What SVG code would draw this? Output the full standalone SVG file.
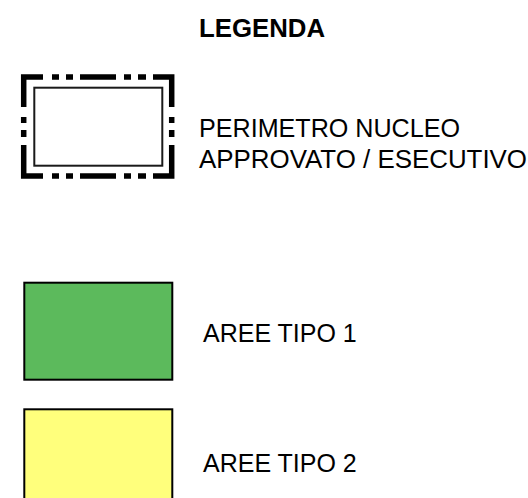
<svg xmlns="http://www.w3.org/2000/svg" width="528" height="498" viewBox="0 0 528 498">
<style>
text{font-family:"Liberation Sans",Arial,sans-serif;fill:#000;font-size:25px}
.title{font-weight:bold}
.frame{fill:none;stroke:#000;stroke-width:5.5;stroke-linecap:butt;stroke-linejoin:miter}
.inner{fill:#fff;stroke:#1a1a1a;stroke-width:2}
.swatch{stroke:#000;stroke-width:2}
</style>
<rect width="528" height="498" fill="#fff"/>
<text class="title" x="199" y="37" textLength="126" lengthAdjust="spacingAndGlyphs">LEGENDA</text>
<g id="perimetro">
<rect class="inner" x="34.3" y="87.7" width="128" height="78"/>
<path class="frame" d="M23.7 107V77H43M153 77H171.7V107M23.7 145V176H43M153 176H171.7V145M52 77H59M66 77H73M80 77H116M124 77H131M138 77H146M52 176H59M66 176H73M80 176H116M124 176H131M138 176H146M23.7 117V123M23.7 130V137M171.7 117V123M171.7 130V137"/>
<text x="199" y="137" textLength="261" lengthAdjust="spacingAndGlyphs" style="font-size:25.3px">PERIMETRO NUCLEO</text>
<text x="199" y="168" textLength="328" lengthAdjust="spacingAndGlyphs" style="font-size:25.5px">APPROVATO / ESECUTIVO</text>
</g>
<g id="tipo1">
<rect class="swatch" x="24.3" y="282.7" width="148" height="97" fill="#5CBA5C"/>
<text x="203" y="342">AREE TIPO 1</text>
</g>
<g id="tipo2">
<rect class="swatch" x="24.3" y="409.3" width="148" height="100" fill="#FFFF7C"/>
<text x="203" y="472">AREE TIPO 2</text>
</g>
<g id="connectors"/>
</svg>
